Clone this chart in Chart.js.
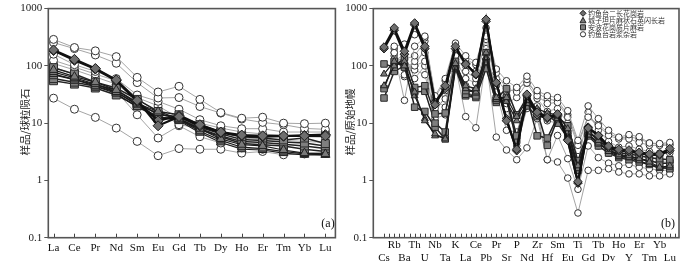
<!DOCTYPE html>
<html><head><meta charset="utf-8">
<script src="https://cdn.jsdelivr.net/npm/chart.js@4.4.1/dist/chart.umd.min.js"></script>
<style>
html,body{margin:0;padding:0;background:#fff;width:700px;height:261px;overflow:hidden}
#wa{position:absolute;left:0;top:0;width:342px;height:261px}
#wb{position:absolute;left:342px;top:0;width:358px;height:261px}
.lg{position:absolute;left:588px;height:8px;line-height:8px;font-size:7px;font-family:"Noto Sans CJK SC","Noto Sans",sans-serif;color:#333;white-space:nowrap}
</style></head><body>
<div id="wa"><canvas id="ca"></canvas></div>
<div id="wb"><canvas id="cb"></canvas></div>
<div id="legend"></div>
<script>
// ---------- categories / tick labels ----------
const reeCats = ['La','Ce','Pr','Nd','Sm','Eu','Gd','Tb','Dy','Ho','Er','Tm','Yb','Lu'];
const spiderCats = ['Cs','Rb','Ba','Th','U','Nb','Ta','K','La','Ce','Pb','Pr','Sr','P','Nd','Zr','Hf','Sm','Eu','Ti','Gd','Tb','Dy','Ho','Y','Er','Tm','Yb','Lu'];
const yTickValues = [0.1, 1, 10, 100, 1000];
const yTickLabels = ['0.1', '1', '10', '100', '1000'];
const legendNames = ['钓鱼台二长花岗岩','城子坦片麻状石英闪长岩','安波花岗质片麻岩','钓鱼台岩浆杂岩'];

// ---------- (a) chondrite-normalised REE ----------
const reeDia1 = [190,130,90,57,25,9,13,9.4,7,6.2,6,6,6,6];
const reeDia2 = [185,125,88,55,24,11,13.5,9,6.8,6,5.8,5.9,6.1,6.3];
const reeTri1 = [85,65,52,38,22,16,12,8,5.3,4.2,4,3.4,3.0,2.9];
const reeTri2 = [78,62,48,35,21,15,11.5,7.2,5,3.8,3.6,3.2,2.9,2.8];
const reeTri3 = [72,58,44,33,19,13,11,6.8,4.6,3.5,3.4,3.0,2.8,2.8];
const reeSq1 = [93,72,52,41,26,16,14,9.4,7,5.8,5.5,5.1,5.5,4.4];
const reeSq2 = [70,58,47,38,23,14,13,8.5,6.5,5.2,5,4.7,4.5,4.0];
const reeSq3 = [60,52,44,35,21,12,12,8,6,4.8,4.6,4.3,4,3.6];
const reeSq4 = [55,48,41,31,20,13,11.5,7.7,5.8,4.4,4.2,4.0,3.5,3.2];
const reeCir1 = [290,209,183,145,63,35,44,26,15.3,12.2,12.7,10,9.8,10];
const reeCir2 = [255,200,155,111,51,27.5,28,19.5,15,11.8,10.3,9.4,8.1,7.8];
const reeCir3 = [160,105,80,60,31,24,17.5,11.5,9,8,8,7,7,7];
const reeCir4 = [125,95,72,55,28,20,12.2,10,8.2,7,6.5,6,5.8,5.7];
const reeCir5 = [110,85,64,48,26,16,9.4,8.2,7,5.5,5.2,5,4.8,4.6];
const reeCir6 = [95,70,50,36,14,5.5,9,5.8,4.5,3.7,3.5,3.2,3.0,3.0];
const reeCir7 = [27.3,17.5,12.6,8.2,4.8,2.7,3.6,3.5,3.5,3.0,3.2,2.8,2.9,3.1];

// ---------- (b) primitive-mantle-normalised spider ----------
const spDia1 = [213,460,180,560,220,21,45,220,107,72,650,51,11,3.5,32,15.5,12.6,14.5,5,0.95,8.2,6.1,4,3.5,3.4,3.1,2.9,2.9,3.6];
const spDia2 = [200,420,160,520,200,23,40,200,110,70,600,50,12,3.3,30,14,12,14,5.2,0.9,8.5,6,3.8,3.3,3.2,3,2.8,2.8,3.3];
const spTri1 = [72,120,100,35,11,6.5,5.3,110,45,40,170,28,28,13,25,18,15,14,8,1.8,7,5,3.5,2.8,2.7,2.4,2.1,1.7,1.8];
const spTri2 = [45,100,120,30,12,6,5.5,95,40,35,140,26,24,11,22,16,13,12,7,1.6,6.2,4.5,3.2,2.6,2.5,2.2,1.9,1.6,1.7];
const spSq1 = [108,95,140,42,45,14.5,15,120,37,35,170,27,40,14,28,6,5.5,13,9,2.2,7.5,5,3.8,3,2.9,2.7,2.5,2.4,2.3];
const spSq2 = [40,120,95,35,36,10,7,100,32,30,120,25,28,6,24,16,4.1,12,6.5,1.7,6.5,4.5,3.4,2.7,2.6,2.4,2.2,2.0,2.0];
const spSq3 = [27.5,80,100,19,16,8.5,5.3,90,30,28,90,23,25,5,20,13,14,10,5.5,1.5,6,4,3,2.5,2.3,2.1,1.9,1.7,1.6];
const spCir1 = [null,220,240,350,330,30,60,250,150,115,460,88,55,42,66,37,30,28,16.5,5,20,12,7.5,5.7,6.3,5.8,4.5,4.4,4.6];
const spCir2 = [null,170,25,220,310,28,55,100,13,8.3,130,5.7,3.4,2.3,3.7,12,2.3,2.1,1.1,0.27,1.5,1.5,1.6,1.4,1.3,1.3,1.2,1.2,1.3];
const spCir3 = [null,130,130,150,270,23,37,200,130,105,330,75,40,35,58,30,22,23,12.7,4.1,12.7,9,6.1,5.3,5.3,4.6,4.1,4.1,4.1];
const spCir4 = [null,170,70,120,170,25,19,150,80,60,290,45,22,28,50,27,16,18,10,2.0,15.5,7.5,4.8,3.8,4,3.5,3.2,3,3];
const spCir5 = [null,200,65,100,120,18,26.5,130,60,50,200,35,7.5,7,25,20,11,10,7,1.7,6,4,3,2.6,2.5,2.4,2.2,2.1,2.1];
const spCir6 = [null,150,100,85,70,15,30,110,45,38,170,28,18,6,20,15,2.3,6.1,2.4,0.7,4,2.5,2,1.8,1.9,1.7,1.6,1.5,1.5];
const spCir7 = [null,120,160,60,100,12,14,95,35,30,110,24,30,4,18,13,13,13,8,2.6,6.5,4.5,3.3,3,3,2.8,2.5,2.3,2.3];
const spCir8 = [null,110,110,100,200,20,40,180,100,80,250,60,35,40,50,34,26,25,14,4.6,13,9.5,6.7,5.5,5.8,5.3,4.5,4.3,4.3];

// ---------- styling ----------
const STY = {
  dia: {ps:'rectRot', bg:'#6e6e6e', pb:'#1a1a1a', line:'#111', lw:2.2, order:1},
  tri: {ps:'triangle', bg:'#7a7a7a', pb:'#222', line:'#1a1a1a', lw:1.2, order:2},
  sq:  {ps:'rect', bg:'#7f7f7f', pb:'#2a2a2a', line:'#222', lw:1.5, order:3},
  cir: {ps:'circle', bg:'#ffffff', pb:'#333', line:'#9a9a9a', lw:0.9, order:4}
};
function ds(arr, kind, r) {
  const s = STY[kind];
  return {
    data: arr.map((v, i) => ({x: i, y: v})),
    borderColor: s.line, borderWidth: s.lw,
    pointStyle: s.ps, pointRadius: r, pointHoverRadius: r,
    pointBackgroundColor: s.bg, pointBorderColor: s.pb, pointBorderWidth: 1,
    order: s.order, tension: 0, fill: false, clip: false
  };
}
const serif = '"Liberation Serif", "DejaVu Serif", serif';
const cjk = '"Noto Sans CJK SC", "Noto Sans", sans-serif';
const legendRowsY = [13.3, 20.3, 27.3, 34.3];
const legendKinds = ['dia', 'tri', 'sq', 'cir'];

function decor(o) {
  return {
    id: 'decor',
    afterDraw(chart) {
      const {ctx, chartArea: a, scales: {x}} = chart;
      ctx.save();
      ctx.strokeStyle = '#444'; ctx.lineWidth = 1;
      o.tickVals.forEach(v => {
        const px = Math.round(x.getPixelForValue(v)) + 0.5;
        ctx.beginPath(); ctx.moveTo(px, a.bottom); ctx.lineTo(px, a.bottom - 4); ctx.stroke();
      });
      ctx.lineWidth = 1.6; ctx.strokeStyle = '#555';
      ctx.strokeRect(a.left, a.top, a.right - a.left, a.bottom - a.top);
      ctx.fillStyle = '#111';
      ctx.font = '12px ' + serif; ctx.textAlign = 'center'; ctx.textBaseline = 'middle';
      ctx.fillText(o.tag, o.tagX, 224);
      ctx.save();
      ctx.translate(o.titleX, 122); ctx.rotate(-Math.PI / 2);
      ctx.font = '10.5px ' + cjk; ctx.fillStyle = '#222';
      ctx.fillText(o.title, 0, 0);
      ctx.restore();
      if (o.legend) {
        legendKinds.forEach((k, i) => {
          const s = STY[k], y = legendRowsY[i], cx = 241;
          ctx.fillStyle = s.bg; ctx.strokeStyle = s.pb; ctx.lineWidth = 1;
          ctx.beginPath();
          if (k === 'dia') { ctx.moveTo(cx, y-3); ctx.lineTo(cx+3, y); ctx.lineTo(cx, y+3); ctx.lineTo(cx-3, y); ctx.closePath(); }
          else if (k === 'tri') { ctx.moveTo(cx, y-3); ctx.lineTo(cx+3, y+2.5); ctx.lineTo(cx-3, y+2.5); ctx.closePath(); }
          else if (k === 'sq') { ctx.rect(cx-2.5, y-2.5, 5, 5); }
          else { ctx.arc(cx, y, 2.6, 0, Math.PI*2); }
          ctx.fill(); ctx.stroke();
        });
      }
      ctx.restore();
    }
  };
}

function makeChart(id, cats, datasets, xmin, xmax, padRight, yAxisW, multiRow, deco) {
  return new Chart(document.getElementById(id), {
    type: 'line',
    data: {datasets},
    options: {
      responsive: true, maintainAspectRatio: false, animation: false, devicePixelRatio: 1,
      layout: {padding: {left: 0, top: 3, right: padRight, bottom: 0}},
      plugins: {legend: {display: false}, tooltip: {enabled: false}},
      scales: {
        x: {
          type: 'linear', min: xmin, max: xmax,
          afterBuildTicks: s => { s.ticks = cats.map((c, i) => ({value: i})); },
          afterFit: s => { s.height = 23.3; },
          grid: {display: false}, border: {display: false},
          ticks: {
            autoSkip: false, maxRotation: 0, minRotation: 0,
            padding: multiRow ? -6.7 : -3.9, color: '#111',
            font: {family: serif, size: 11, lineHeight: multiRow ? 1.13 : 1.2},
            callback: v => {
              const lab = cats[Math.round(v)];
              if (lab === undefined) return '';
              if (!multiRow) return lab;
              return Math.round(v) % 2 === 0 ? ['', lab] : [lab, ''];
            }
          }
        },
        y: {
          type: 'logarithmic', min: 0.1, max: 1000,
          afterBuildTicks: s => { s.ticks = yTickValues.map(v => ({value: v})); },
          afterFit: s => { s.width = yAxisW; },
          grid: {display: true, drawOnChartArea: false, drawTicks: true, tickLength: 4, color: '#555', lineWidth: 1},
          border: {display: false},
          ticks: {
            padding: 2, color: '#222', font: {family: serif, size: 11},
            callback: v => { const k = yTickValues.indexOf(v); return k >= 0 ? yTickLabels[k] : ''; }
          }
        }
      }
    },
    plugins: [deco]
  });
}

const rA = {dia: 5, tri: 5, sq: 5.6, cir: 4};
const setA = [
  ds(reeDia1,'dia',rA.dia), ds(reeDia2,'dia',rA.dia),
  ds(reeTri1,'tri',rA.tri), ds(reeTri2,'tri',rA.tri), ds(reeTri3,'tri',rA.tri),
  ds(reeSq1,'sq',rA.sq), ds(reeSq2,'sq',rA.sq), ds(reeSq3,'sq',rA.sq), ds(reeSq4,'sq',rA.sq),
  ds(reeCir1,'cir',rA.cir), ds(reeCir2,'cir',rA.cir), ds(reeCir3,'cir',rA.cir), ds(reeCir4,'cir',rA.cir),
  ds(reeCir5,'cir',rA.cir), ds(reeCir6,'cir',rA.cir), ds(reeCir7,'cir',rA.cir)
];
const rB = {dia: 4.3, tri: 4, sq: 4.6, cir: 3.3};
const setB = [
  ds(spDia1,'dia',rB.dia), ds(spDia2,'dia',rB.dia),
  ds(spTri1,'tri',rB.tri), ds(spTri2,'tri',rB.tri),
  ds(spSq1,'sq',rB.sq), ds(spSq2,'sq',rB.sq), ds(spSq3,'sq',rB.sq),
  ds(spCir1,'cir',rB.cir), ds(spCir2,'cir',rB.cir), ds(spCir3,'cir',rB.cir), ds(spCir4,'cir',rB.cir),
  ds(spCir5,'cir',rB.cir), ds(spCir6,'cir',rB.cir), ds(spCir7,'cir',rB.cir), ds(spCir8,'cir',rB.cir)
];

makeChart('ca', reeCats, setA, -0.25, 13.48, 5, 48.3, false,
  decor({tickVals: reeCats.map((c, i) => i), tag: '(a)', tagX: 328, title: '样品/球粒陨石', titleX: 25, legend: false}));

const halfTicks = [];
for (let i = 0; i <= 28.5; i += 0.5) halfTicks.push(i);
makeChart('cb', spiderCats, setB, -1.05, 28.9, 21, 31.3, true,
  decor({tickVals: halfTicks, tag: '(b)', tagX: 326, title: '样品/原始地幔', titleX: 8, legend: true}));

// legend text as HTML
const lg = document.getElementById('legend');
legendNames.forEach((n, i) => {
  const d = document.createElement('div');
  d.className = 'lg';
  d.style.top = (legendRowsY[i] - 4) + 'px';
  d.textContent = n;
  lg.appendChild(d);
});
</script>
</body></html>
